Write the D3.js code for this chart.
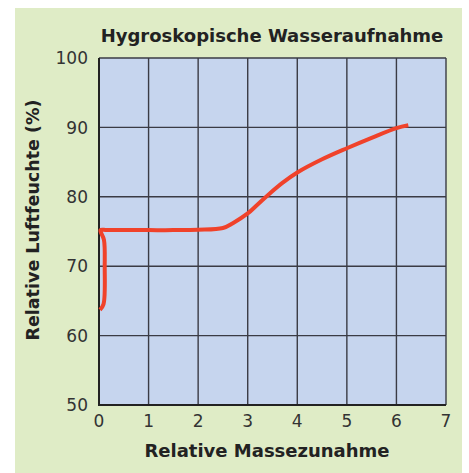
<!DOCTYPE html>
<html>
<head>
<meta charset="utf-8">
<script src="https://cdn.jsdelivr.net/npm/d3@7"></script>
<style>
  body { margin: 0; background: #fff; }
  svg { display: block; }
</style>
</head>
<body>
<svg id="chart" width="469" height="473"></svg>
<script>
// values
const masse = [0.02, 0.09, 0.115, 0.1, 0.03, 0.15, 0.5, 1, 1.5, 2, 2.5, 2.7, 3, 3.2, 3.4, 3.7, 4, 4.5, 5, 5.5, 6, 6.24];
const feuchte = [63.7, 64.5, 70, 73.8, 75.2, 75.2, 75.2, 75.2, 75.2, 75.25, 75.5, 76.2, 77.6, 78.9, 80.2, 82, 83.5, 85.4, 87.0, 88.5, 89.9, 90.3];
const xTicks = [0, 1, 2, 3, 4, 5, 6, 7];
const yTicks = [50, 60, 70, 80, 90, 100];

const title = "Hygroskopische Wasseraufnahme";
const xLabel = "Relative Massezunahme";
const yLabel = "Relative Luftfeuchte (%)";

const svg = d3.select("#chart");
const plotL = 99, plotT = 58, plotR = 446, plotB = 405;

// green panel
svg.append("rect")
    .attr("x", 15).attr("y", 8)
    .attr("width", 447).attr("height", 465)
    .attr("fill", "#dfecc6");

let x = d3.scaleLinear().domain([0, 7]).range([plotL, plotR]);
let y = d3.scaleLinear().domain([50, 100]).range([plotB, plotT]);

svg.append("rect")
    .attr("x", plotL).attr("y", plotT)
    .attr("width", plotR - plotL).attr("height", plotB - plotT)
    .attr("fill", "#c6d5ee");

// grid
svg.append("g")
    .selectAll("line")
    .data(xTicks)
    .enter().append("line")
    .attr("x1", d => x(d)).attr("x2", d => x(d))
    .attr("y1", plotT).attr("y2", plotB)
    .attr("stroke", "#3a3b44").attr("stroke-width", 1.4);

svg.append("g")
    .selectAll("line")
    .data(yTicks)
    .enter().append("line")
    .attr("x1", plotL).attr("x2", plotR)
    .attr("y1", d => y(d)).attr("y2", d => y(d))
    .attr("stroke", "#3a3b44").attr("stroke-width", 1.4);

// left + bottom axis a bit heavier
svg.append("line")
    .attr("x1", plotL).attr("x2", plotL)
    .attr("y1", plotT).attr("y2", plotB + 1)
    .attr("stroke", "#222").attr("stroke-width", 2);
svg.append("line")
    .attr("x1", plotL).attr("x2", plotR)
    .attr("y1", plotB).attr("y2", plotB)
    .attr("stroke", "#222").attr("stroke-width", 2);

// curve
let pts = masse.map((d, i) => [d, feuchte[i]]);
let line = d3.line()
    .x(d => x(d[0]))
    .y(d => y(d[1]))
    .curve(d3.curveCatmullRom.alpha(0.5));

svg.append("path")
    .attr("d", line(pts))
    .attr("fill", "none")
    .attr("stroke", "#f0422a")
    .attr("stroke-width", 4)
    .attr("stroke-linejoin", "round");

// tick labels
svg.append("g")
    .selectAll("text")
    .data(xTicks)
    .enter().append("text")
    .attr("x", d => x(d)).attr("y", 427)
    .attr("text-anchor", "middle")
    .style("font-family", "DejaVu Sans")
    .style("font-size", "17px")
    .attr("fill", "#333")
    .text(d => d);

svg.append("g")
    .selectAll("text")
    .data(yTicks)
    .enter().append("text")
    .attr("x", 88).attr("y", d => y(d))
    .attr("dy", "0.36em")
    .attr("text-anchor", "end")
    .style("font-family", "DejaVu Sans")
    .style("font-size", "17px")
    .attr("fill", "#333")
    .text(d => d);

// titles
svg.append("text")
    .attr("x", 272).attr("y", 42)
    .attr("text-anchor", "middle")
    .style("font-family", "DejaVu Sans")
    .style("font-weight", "bold")
    .style("font-size", "18px")
    .attr("fill", "#222")
    .text(title);

svg.append("text")
    .attr("x", 267).attr("y", 457)
    .attr("text-anchor", "middle")
    .style("font-family", "DejaVu Sans")
    .style("font-weight", "bold")
    .style("font-size", "18px")
    .attr("fill", "#222")
    .text(xLabel);

svg.append("text")
    .attr("transform", "translate(39,220) rotate(-90)")
    .attr("text-anchor", "middle")
    .style("font-family", "DejaVu Sans")
    .style("font-weight", "bold")
    .style("font-size", "17.5px")
    .attr("fill", "#222")
    .text(yLabel);
</script>
</body>
</html>
